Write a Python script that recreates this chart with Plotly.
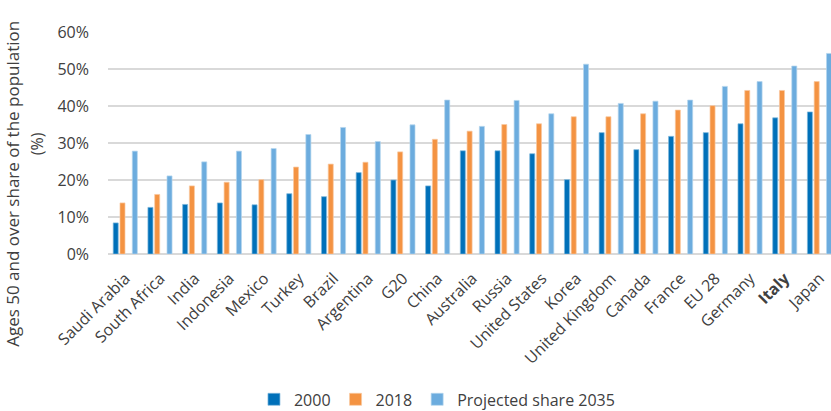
import plotly.graph_objects as go

categories = ["Saudi Arabia", "South Africa", "India", "Indonesia", "Mexico", "Turkey",
              "Brazil", "Argentina", "G20", "China", "Australia", "Russia", "United States",
              "Korea", "United Kingdom", "Canada", "France", "EU 28", "Germany", "Italy", "Japan"]
tick_labels = ["Saudi Arabia", "South Africa", "India", "Indonesia", "Mexico", "Turkey",
               "Brazil", "Argentina", "G20", "China", "Australia", "Russia", "United States",
               "Korea", "United Kingdom", "Canada", "France", "EU 28", "Germany", "<b>Italy</b>", "Japan"]
v2000 = [8.4, 12.6, 13.4, 13.8, 13.3, 16.3, 15.5, 22.0, 20.0, 18.4, 27.9, 27.9, 27.1,
         20.1, 32.8, 28.2, 31.8, 32.8, 35.2, 36.8, 38.4]
v2018 = [13.8, 16.1, 18.4, 19.4, 20.1, 23.5, 24.3, 24.8, 27.6, 31.0, 33.2, 35.0, 35.2,
         37.1, 37.1, 37.9, 38.9, 40.1, 44.2, 44.2, 46.6]
v2035 = [27.8, 21.1, 24.9, 27.8, 28.5, 32.3, 34.2, 30.4, 34.9, 41.6, 34.5, 41.5, 37.9,
         51.3, 40.7, 41.3, 41.6, 45.3, 46.6, 50.8, 54.2]
series_names = ["2000", "2018", "Projected share 2035"]
y_ticks = [0, 10, 20, 30, 40, 50, 60]
y_tick_labels = ["0%", "10%", "20%", "30%", "40%", "50%", "60%"]

FONT = "Open Sans"
TXT = "#404040"
colors = ["#0070B9", "#F49342", "#6CACDE"]
edges = ["#7FB7DC", "#F9C9A0", "#B5D5EE"]
offsets = [-0.35, -0.155, 0.2]
bw = 0.145

fig = go.Figure()
for name, vals, c, e, off in zip(series_names, [v2000, v2018, v2035], colors, edges, offsets):
    fig.add_trace(go.Bar(
        x=categories, y=vals, name=name,
        marker=dict(color=c, line=dict(color=e, width=0.7)),
        width=bw, offset=off,
    ))

fig.update_layout(
    width=831, height=411,
    margin=dict(l=108, r=0, t=32, b=157, autoexpand=False),
    plot_bgcolor="white", paper_bgcolor="white",
    font=dict(family=FONT, color=TXT, size=15),
    barmode="overlay",
    showlegend=True,
    legend=dict(orientation="h", x=0.455, xanchor="center", y=-0.655, yanchor="middle",
                font=dict(size=16, color=TXT), itemwidth=30, traceorder="normal"),
    xaxis=dict(type="category", categoryorder="array", categoryarray=categories,
               tickvals=categories, ticktext=tick_labels, tickangle=-45,
               range=[-0.5, 20.33], showgrid=False, showline=False, ticks="",
               tickfont=dict(size=16, color=TXT), automargin=False,
               ticklabelstandoff=11),
    yaxis=dict(range=[0, 60], tickvals=y_ticks, ticktext=y_tick_labels, showgrid=True,
               gridcolor="#D9D9D9", gridwidth=1.5, zeroline=True, zerolinecolor="#D9D9D9",
               zerolinewidth=1.5, ticks="", tickfont=dict(size=16, color=TXT),
               automargin=False, ticklabelstandoff=18),
    annotations=[
        dict(text="Ages 50 and over share of the population", xref="paper", yref="paper",
             x=(12.5 - 108) / 723, y=(253.5 - 184) / 221.5, xanchor="center", yanchor="middle",
             textangle=-90, showarrow=False, font=dict(size=17, color=TXT, family=FONT)),
        dict(text="(%)", xref="paper", yref="paper",
             x=(37 - 108) / 723, y=(253.5 - 144) / 221.5, xanchor="center", yanchor="middle",
             textangle=-90, showarrow=False, font=dict(size=16, color=TXT, family=FONT)),
    ],
)

fig.write_html("out.html", config={"displayModeBar": False},
               post_script="document.body.style.margin='0';document.body.style.overflow='hidden';")
